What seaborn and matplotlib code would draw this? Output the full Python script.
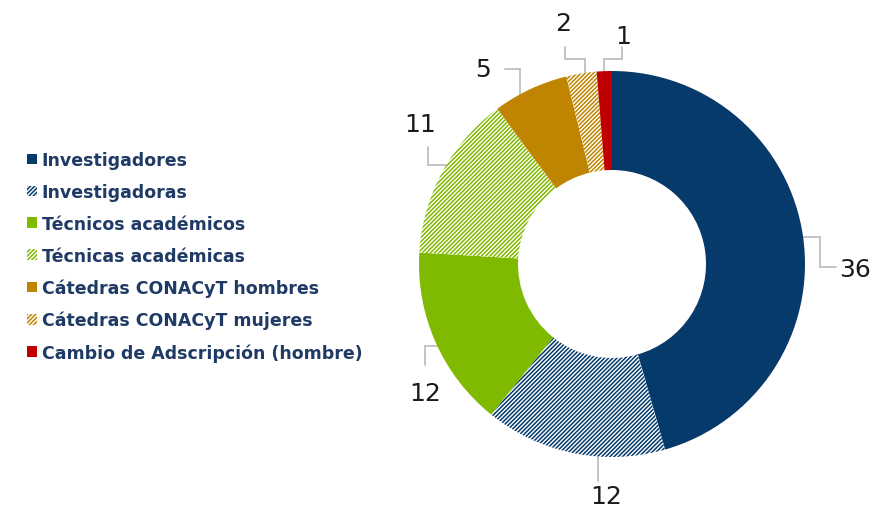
import matplotlib
matplotlib.use("Agg")
import matplotlib.pyplot as plt
import seaborn as sns

# ---- data ----
categories = [
    "Investigadores",
    "Investigadoras",
    "Técnicos académicos",
    "Técnicas académicas",
    "Cátedras CONACyT hombres",
    "Cátedras CONACyT mujeres",
    "Cambio de Adscripción (hombre)",
]
counts = [36, 12, 12, 11, 5, 2, 1]
colors = ["#053A6B", "#053A6B", "#80BA00", "#80BA00", "#BF8500", "#BF8500", "#C00000"]
hatched = [False, True, False, True, False, True, False]

# ---- layout (pixel positions in the 876x510 canvas) ----
CX, CY, R = 612, 265, 193
HOLE = 94 / 193
leader_px = [
    [(790, 238), (820, 238), (820, 268), (836, 268)],
    [(598, 440), (598, 482)],
    [(449, 320), (449, 347), (425, 347), (425, 366)],
    [(460, 166), (428, 166), (428, 148)],
    [(520, 100), (520, 70), (505, 70)],
    [(585, 85), (585, 60), (565, 60), (565, 48)],
    [(604, 85), (604, 60), (622, 60), (622, 48)],
]
label_px = [(855, 270), (606, 497), (425, 394), (420, 125), (483, 70), (563, 24), (623, 37)]


def to_data(x, y):
    return (x - CX) / R, (CY - y) / R


sns.set_theme(style="white")
plt.rcParams["font.family"] = ["DejaVu Sans"]
plt.rcParams["hatch.linewidth"] = 1.1

W, H = 876, 510
fig = plt.figure(figsize=(W / 100, H / 100), dpi=100)
ax = fig.add_axes([(CX - R) / W, (H - CY - R) / H, 2 * R / W, 2 * R / H])

wedges, _ = ax.pie(
    counts, radius=1, startangle=90, counterclock=False,
    colors=colors, wedgeprops=dict(width=1 - HOLE, linewidth=0),
)
ax.set_xlim(-1, 1)
ax.set_ylim(-1, 1)
ax.axis("off")

for w, col, h in zip(wedges, colors, hatched):
    w.set_zorder(3)
    if h:
        w.set_facecolor("white")
        w.set_edgecolor(col)
        w.set_hatch("////////")
        w.set_linewidth(0)

# leader lines sit below the ring so their start is hidden by the wedges
for path, lab, val in zip(leader_px, label_px, counts):
    pts = [to_data(*p) for p in path]
    ax.plot([p[0] for p in pts], [p[1] for p in pts], color="#BFBFBF",
            lw=1.3, zorder=1, clip_on=False, solid_joinstyle="miter")
    tx, ty = to_data(*lab)
    ax.text(tx, ty, str(val), ha="center", va="center", fontsize=18,
            color="#1A1A1A", zorder=4)

leg = fig.legend(
    wedges, categories, loc="upper left",
    bbox_to_anchor=(27 / W, 1 - 152 / H), frameon=False,
    borderpad=0, borderaxespad=0, handlelength=0.55, handleheight=0.55,
    handletextpad=0.3, labelspacing=0.8, prop=dict(size=12.5, weight="bold"),
)
for t in leg.get_texts():
    t.set_color("#1F3A64")

fig.savefig("out.png", dpi=100, facecolor="white")
